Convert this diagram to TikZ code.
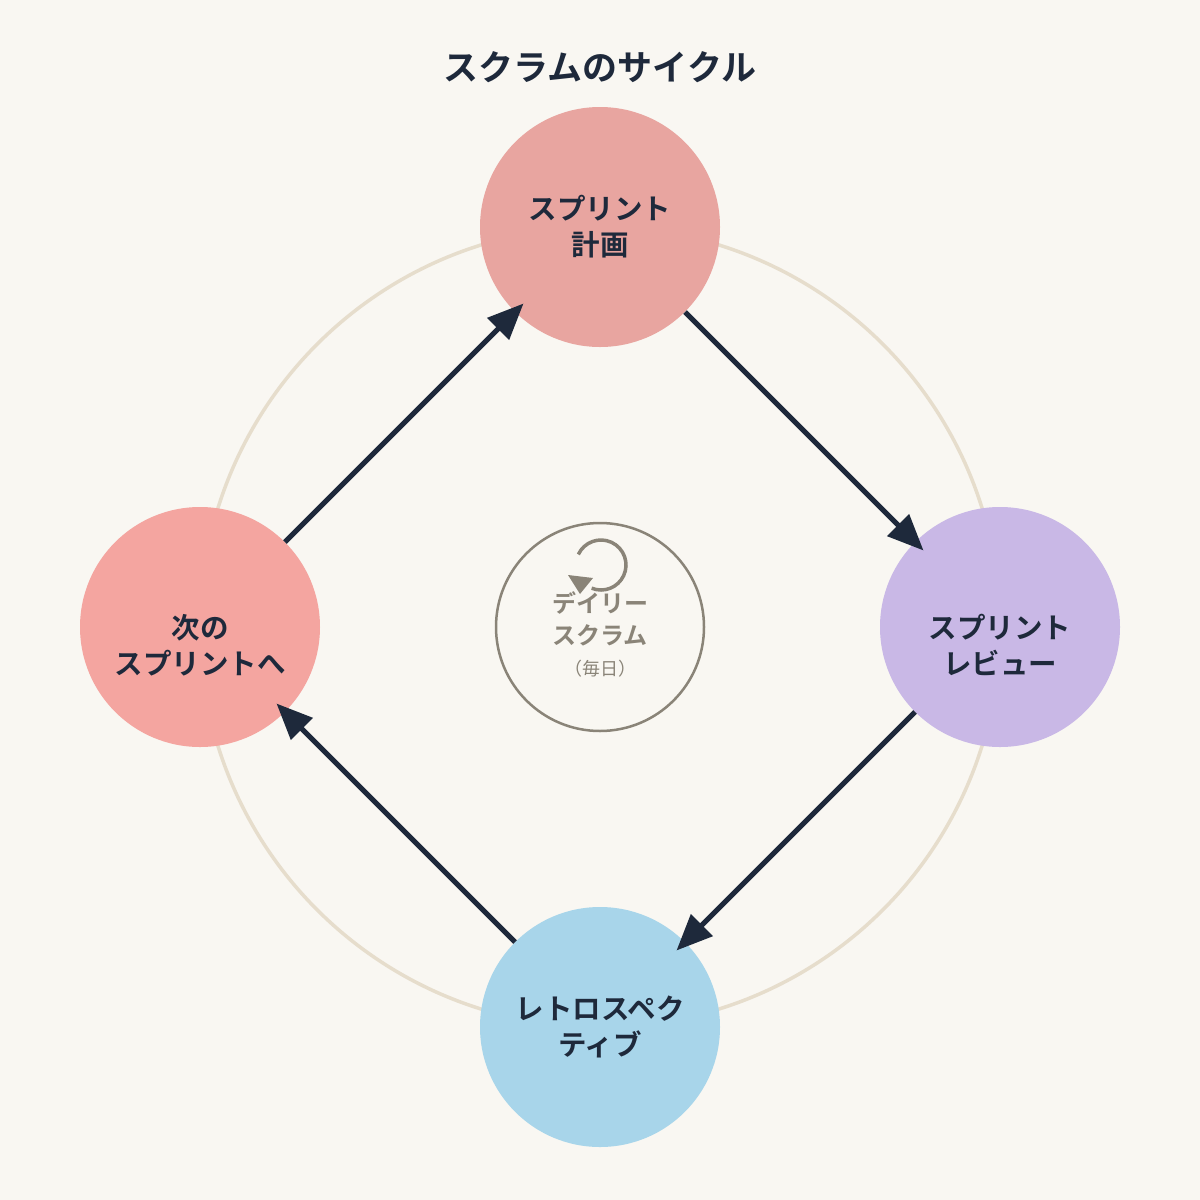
\documentclass[tikz,border=0pt]{standalone}
\usepackage{fontspec}
\setmainfont{Noto Sans CJK JP}[BoldFont={Noto Sans CJK JP Bold}]
\usetikzlibrary{arrows.meta}
\definecolor{bg}{HTML}{F9F7F2}
\definecolor{ink}{HTML}{1E293B}
\definecolor{ring}{HTML}{E6DDCC}
\definecolor{gr}{HTML}{8A8478}
\definecolor{cTop}{HTML}{E8A5A0}
\definecolor{cRight}{HTML}{C9B8E6}
\definecolor{cBottom}{HTML}{A8D5EA}
\definecolor{cLeft}{HTML}{F4A5A0}
\tikzset{
  phase/.style={circle, minimum size=240pt, inner sep=0pt},
  lbl/.style={text=ink, font=\bfseries\fontsize{28.5pt}{36pt}\selectfont, align=center},
  flow/.style={draw=ink, line width=5pt, shorten >=-12pt, -{Triangle[length=36pt,width=30pt]}},
}
\begin{document}
\begin{tikzpicture}[x=1pt,y=-1pt]
\fill[bg] (0,0) rectangle (1200,1200);
\useasboundingbox (0,0) rectangle (1200,1200);
\draw[ring, line width=3.5pt] (600,627) circle[radius=400];
\node[text=ink, font=\bfseries\fontsize{35pt}{40pt}\selectfont] (title) at (600,67) {スクラムのサイクル};
\node[phase, fill=cTop] (top) at (600,227) {};
\node[phase, fill=cRight] (right) at (1000,627) {};
\node[phase, fill=cBottom] (bottom) at (600,1027) {};
\node[phase, fill=cLeft] (left) at (200,627) {};
\node[lbl] (ttop) at (600,227) {スプリント\\計画};
\node[lbl] (tright) at (1000,645) {スプリント\\レビュー};
\node[lbl] (tbottom) at (600,1027) {レトロスペク\\ティブ};
\node[lbl] (tleft) at (200,645) {次の\\スプリントへ};
\draw[flow] (top.-45) -- (right.135);
\draw[flow] (right.-135) -- (bottom.45);
\draw[flow] (bottom.135) -- (left.-45);
\draw[flow] (left.45) -- (top.-135);
\node[circle, draw=gr, line width=2.5pt, minimum size=208pt, inner sep=0pt] (daily) at (600,627) {};
\draw[gr, line width=3.5pt] (601,565) ++(-155:25) arc[start angle=-155, end angle=112, radius=25];
\fill[gr] (568,575) -- (593,578) -- (580,594) -- cycle;
\node[text=gr, font=\bfseries\fontsize{24pt}{32pt}\selectfont, align=center] (dtext) at (600,619) {デイリー\\スクラム};
\node[text=gr, font=\fontsize{18pt}{20pt}\selectfont] (dsub) at (600,669) {（毎日）};
\end{tikzpicture}
\end{document}
